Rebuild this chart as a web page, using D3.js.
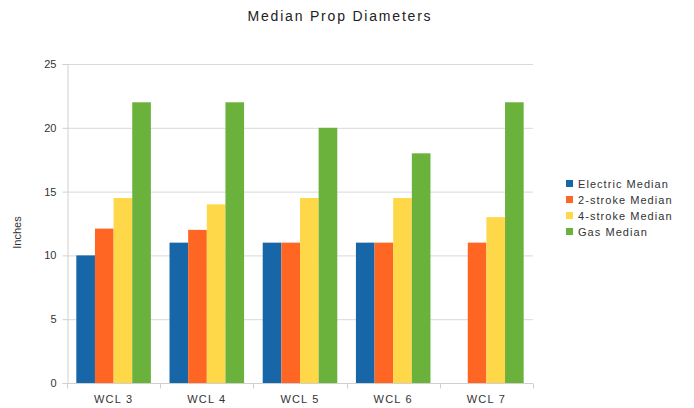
<!DOCTYPE html>
<html>
<head>
<meta charset="utf-8">
<script src="https://cdn.jsdelivr.net/npm/d3@7"></script>
<style>
  html, body { margin: 0; padding: 0; background: #fff; }
  svg { display: block; font-family: "Liberation Sans", Arial, sans-serif; }
</style>
</head>
<body>
<svg id="chart" width="694" height="408"></svg>
<script>
// Median prop diameters (inches) per WCL class
const categories = ["WCL 3", "WCL 4", "WCL 5", "WCL 6", "WCL 7"];
const seriesNames = ["Electric Median", "2-stroke Median", "4-stroke Median", "Gas Median"];
const electric = [10, 11, 11, 11, null];
const twoStroke = [12.1, 12, 11, 11, 11];
const fourStroke = [14.5, 14, 14.5, 14.5, 13];
const gas = [22, 22, 20, 18, 22];
const yTicks = [0, 5, 10, 15, 20, 25];
const colors = ["#1767a8", "#ff6624", "#ffd84a", "#6bb23d"];

const seriesValues = [electric, twoStroke, fourStroke, gas];

const svg = d3.select("#chart");
const x0 = 67, x1 = 533, yTop = 64, yBottom = 383;

const x = d3.scaleBand().domain(categories).range([x0, x1]).paddingInner(0.2).paddingOuter(0.1);
const xs = d3.scaleBand().domain(seriesNames).range([0, x.bandwidth()]);
const y = d3.scaleLinear().domain([0, 25]).range([yBottom, yTop]);

// Title
svg.append("text")
  .attr("x", 340).attr("y", 21)
  .attr("text-anchor", "middle")
  .attr("font-size", 14)
  .attr("letter-spacing", 1.8)
  .attr("fill", "#222")
  .text("Median Prop Diameters");

// Gridlines
svg.append("g").selectAll("line")
  .data(yTicks)
  .join("line")
  .attr("x1", x0).attr("x2", x1)
  .attr("y1", d => y(d) + 0.5).attr("y2", d => y(d) + 0.5)
  .attr("stroke", "#d9d9d9").attr("stroke-width", 1);

// Y axis
const yAxis = svg.append("g")
  .attr("transform", `translate(${x0 + 0.5},0)`)
  .call(d3.axisLeft(y).tickValues(yTicks).tickSize(5).tickPadding(6));
yAxis.select(".domain").attr("stroke", "#d0d0d0");
yAxis.selectAll(".tick line").attr("stroke", "#d0d0d0");
yAxis.selectAll(".tick text").attr("font-size", 11).attr("fill", "#333")
  .attr("font-family", "Liberation Sans, Arial, sans-serif");

// Bars
const groups = svg.append("g").selectAll("g")
  .data(categories)
  .join("g")
  .attr("transform", d => `translate(${x(d)},0)`);

groups.selectAll("rect")
  .data((c, i) => seriesNames.map((s, k) => ({ s, k, v: seriesValues[k][i] })).filter(d => d.v != null))
  .join("rect")
  .attr("x", d => xs(d.s))
  .attr("width", xs.bandwidth())
  .attr("y", d => y(d.v))
  .attr("height", d => y(0) - y(d.v))
  .attr("fill", d => colors[d.k]);

// X axis with ticks between categories
const xAxis = svg.append("g")
  .attr("transform", `translate(0,${yBottom + 0.5})`);
xAxis.append("line")
  .attr("x1", x0).attr("x2", x1)
  .attr("stroke", "#d0d0d0");
const step = x.step();
const bounds = d3.range(categories.length + 1).map(i => x0 + i * step);
xAxis.selectAll(".bt")
  .data(bounds)
  .join("line")
  .attr("class", "bt")
  .attr("x1", d => Math.round(d) + 0.5).attr("x2", d => Math.round(d) + 0.5)
  .attr("y1", 0).attr("y2", 5)
  .attr("stroke", "#d0d0d0");
xAxis.selectAll("text")
  .data(categories)
  .join("text")
  .attr("x", d => x(d) + x.bandwidth() / 2)
  .attr("y", 19)
  .attr("text-anchor", "middle")
  .attr("font-size", 11)
  .attr("letter-spacing", 1.2)
  .attr("fill", "#333")
  .text(d => d);

// Y axis title
svg.append("text")
  .attr("transform", `translate(21,${(yTop + yBottom) / 2 + 9}) rotate(-90)`)
  .attr("text-anchor", "middle")
  .attr("font-size", 11)
  .attr("fill", "#333")
  .text("Inches");

// Legend
const legend = svg.append("g").attr("transform", "translate(566,184)");
const li = legend.selectAll("g")
  .data(seriesNames)
  .join("g")
  .attr("transform", (d, i) => `translate(0,${i * 16})`);
li.append("rect")
  .attr("x", 0).attr("y", -4)
  .attr("width", 7).attr("height", 7)
  .attr("fill", (d, i) => colors[i]);
li.append("text")
  .attr("x", 12).attr("y", 4)
  .attr("font-size", 11)
  .attr("letter-spacing", 1.05)
  .attr("fill", "#333")
  .text(d => d);
</script>
</body>
</html>
